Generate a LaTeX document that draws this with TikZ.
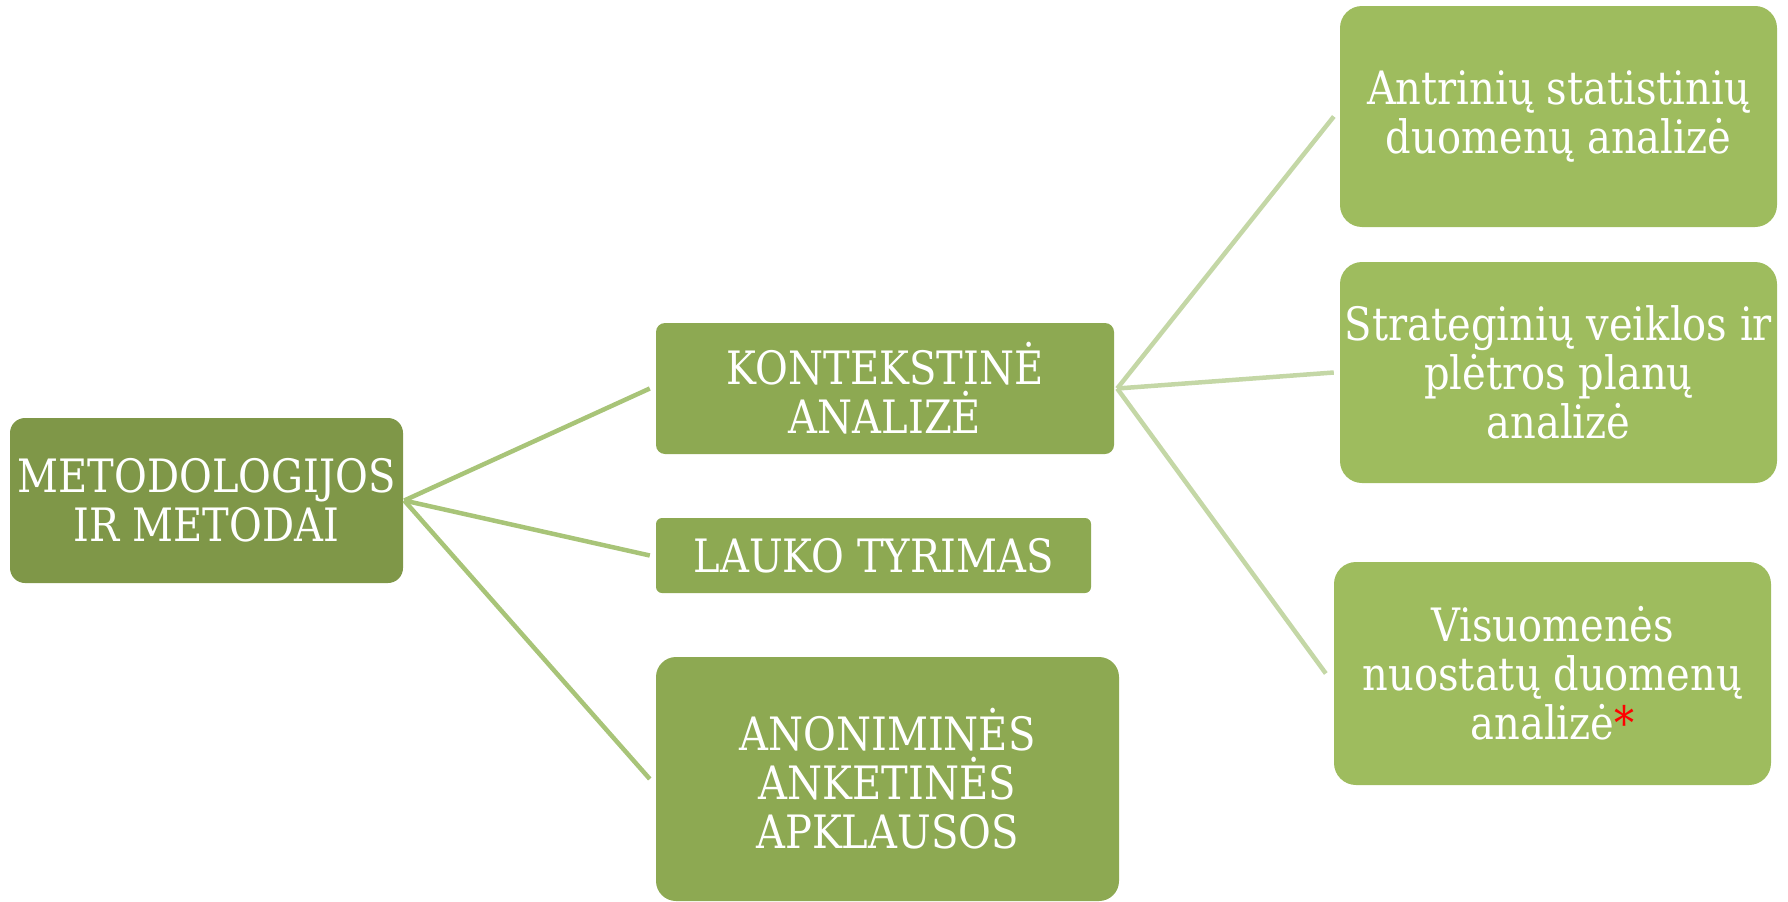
\documentclass[tikz,border=0pt]{standalone}
\usepackage{fontspec}
\setmainfont{DejaVu Serif}[FakeStretch=0.87]
\definecolor{rootc}{RGB}{127,151,72}
\definecolor{midc}{RGB}{141,169,82}
\definecolor{rightc}{RGB}{158,188,94}
\definecolor{lline}{RGB}{168,196,120}
\definecolor{rline}{RGB}{196,215,166}
\begin{document}
\begin{tikzpicture}[x=1pt,y=-1pt,
  box/.style={inner sep=0pt, text=white, align=center, font=\fontsize{46}{49}\selectfont},
  rootbox/.style={box, fill=rootc, rounded corners=15pt},
  midbox/.style={box, fill=midc},
  rightbox/.style={box, fill=rightc, rounded corners=22pt, minimum width=437pt},
  lconn/.style={draw=lline, line width=4.5pt},
  rconn/.style={draw=rline, line width=4.5pt}]
\useasboundingbox (0,0) rectangle (1788,902);
\node[rootbox, minimum width=393pt, minimum height=165pt] (root) at (206.5,500.5) {METODOLOGIJOS\\IR METODAI};
\node[midbox, rounded corners=9pt, minimum width=458pt, minimum height=131pt] (kont) at (885,388.5) {KONTEKSTINĖ\\ANALIZĖ};
\node[midbox, rounded corners=6pt, minimum width=435pt, minimum height=75pt] (lauko) at (873.5,555.5) {LAUKO TYRIMAS};
\node[midbox, rounded corners=20pt, minimum width=463pt, minimum height=244pt] (anon) at (887.5,779) {ANONIMINĖS\\ANKETINĖS\\APKLAUSOS};
\node[rightbox, minimum height=221pt] (antr) at (1558.5,116.5) {Antrinių statistinių\\duomenų analizė};
\node[rightbox, minimum height=221pt] (strat) at (1558.5,372.5) {Strateginių veiklos ir\\plėtros planų\\analizė};
\node[rightbox, minimum height=223pt] (visu) at (1552.5,673.5) {Visuomenės\\nuostatų duomenų\\analizė\textcolor{red}{*}};
\draw[lconn] ([xshift=1pt]root.east) -- ([xshift=-6pt]kont.west);
\draw[lconn] ([xshift=1pt]root.east) -- ([xshift=-6pt]lauko.west);
\draw[lconn] ([xshift=1pt]root.east) -- ([xshift=-6pt]anon.west);
\draw[rconn] ([xshift=3pt]kont.east) -- ([xshift=-6pt]antr.west);
\draw[rconn] ([xshift=3pt]kont.east) -- ([xshift=-6pt]strat.west);
\draw[rconn] ([xshift=3pt]kont.east) -- ([xshift=-8pt]visu.west);
\end{tikzpicture}
\end{document}
